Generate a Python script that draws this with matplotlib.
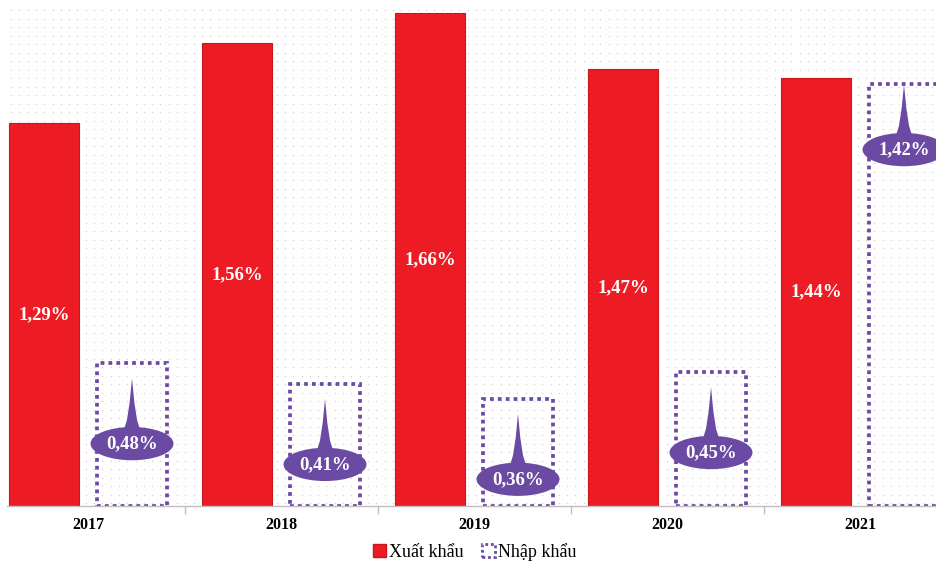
import numpy as np
import matplotlib.pyplot as plt
from matplotlib.patches import Ellipse, Polygon, Patch

years = ["2017", "2018", "2019", "2020", "2021"]
xuat_khau = [1.29, 1.56, 1.66, 1.47, 1.44]
nhap_khau = [0.48, 0.41, 0.36, 0.45, 1.42]
xk_labels = ["1,29%", "1,56%", "1,66%", "1,47%", "1,44%"]
nk_labels = ["0,48%", "0,41%", "0,36%", "0,45%", "1,42%"]

RED = "#ed1c24"
PURPLE = "#6b4aa3"
serif = ["Liberation Serif", "DejaVu Serif"]

fig = plt.figure(figsize=(9.36, 5.65), dpi=100)
ax_w, ax_h = 929, 498
ax = fig.add_axes([7 / 936, 59 / 565, ax_w / 936, ax_h / 565])

bw = 0.363
off = 0.228
x = list(range(len(years)))

# fine dot texture behind the bars
gx, gy = np.meshgrid(np.arange(4, ax_w, 8.3), np.arange(3, ax_h, 8.5))
ax.scatter(gx.ravel() / ax_w, gy.ravel() / ax_h, s=1.1, c="#d2d2d2",
           linewidths=0, transform=ax.transAxes, zorder=0)

ax.bar([i - off for i in x], xuat_khau, width=bw, color=RED,
       edgecolor="#c9161d", linewidth=0.8, zorder=2)
ax.bar([i + off for i in x], nhap_khau, width=bw, facecolor="none",
       edgecolor=PURPLE, linewidth=2.7, linestyle=(0, (1, 1.1)), zorder=2)

for i, v, lab in zip(x, xuat_khau, xk_labels):
    ax.text(i - off, v / 2, lab, ha="center", va="center", color="white",
            fontsize=13.5, fontweight="bold", family=serif, zorder=4)

# callout bubbles for the import values
ew, eh = 0.43, 0.112
for i, v, lab in zip(x, nhap_khau, nk_labels):
    cx = i + off
    cy = v - 0.27 if v < 1 else v - 0.22
    tip = cy + 0.22
    ax.add_patch(Polygon([(cx - 0.055, cy + 0.02), (cx - 0.026, cy + 0.08),
                          (cx - 0.012, cy + 0.14), (cx, tip),
                          (cx + 0.012, cy + 0.14), (cx + 0.026, cy + 0.08),
                          (cx + 0.055, cy + 0.02)],
                         closed=True, facecolor=PURPLE, edgecolor="none", zorder=3))
    ax.add_patch(Ellipse((cx, cy), ew, eh, facecolor=PURPLE, edgecolor="none", zorder=3))
    ax.text(cx, cy, lab, ha="center", va="center", color="white",
            fontsize=13.5, fontweight="bold", family=serif, zorder=4)

ax.set_xlim(-81 / 193, (936 - 88) / 193)
ax.set_ylim(0, 498 / 297)

for s in ["top", "right", "left"]:
    ax.spines[s].set_visible(False)
ax.spines["bottom"].set_color("#bfbfbf")
ax.spines["bottom"].set_linewidth(1)
ax.set_yticks([])
ax.set_xticks([i + 0.5 for i in x[:-1]])
ax.set_xticklabels([])
ax.tick_params(axis="x", length=6, color="#bfbfbf", width=1)
for i, y in zip(x, years):
    ax.text(i, -0.065, y, ha="center", va="center", fontsize=11.5,
            fontweight="bold", family=serif, clip_on=False)

handles = [
    Patch(facecolor=RED, edgecolor="#c9161d", label="Xuất khẩu"),
    Patch(facecolor="white", edgecolor=PURPLE, linewidth=2, linestyle=(0, (1, 1)),
          label="Nhập khẩu"),
]
fig.legend(handles=handles, loc="center", bbox_to_anchor=(475 / 936, 1 - 552 / 565),
           ncol=2, frameon=False, prop={"family": serif, "size": 13},
           handlelength=0.7, handleheight=0.7, handletextpad=0.2, columnspacing=1.0)

fig.savefig("out.png", dpi=100)
